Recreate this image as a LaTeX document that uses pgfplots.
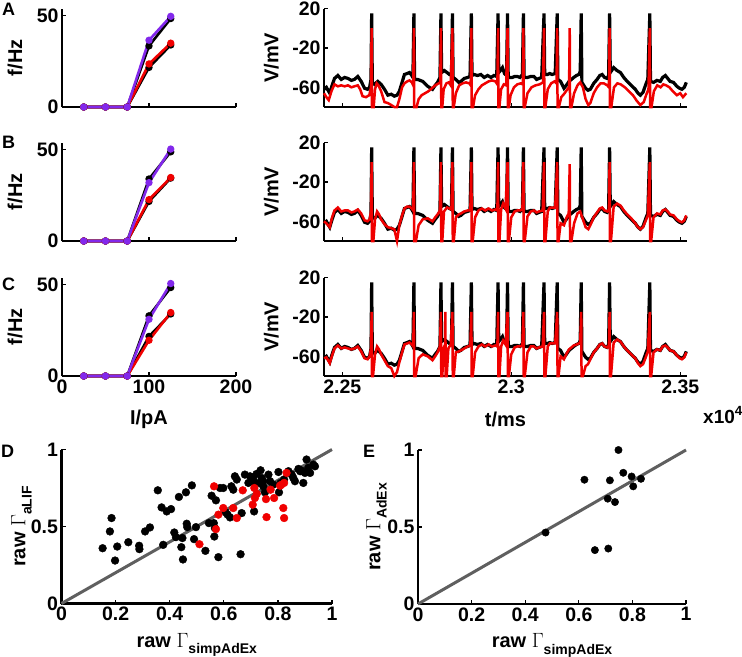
\documentclass[border=0pt]{standalone}
\usepackage{fontspec}
\setmainfont{Liberation Sans}
\usepackage{pgfplots}
\usepackage{pgfplotstable}
\pgfplotsset{compat=1.18}

\definecolor{purp}{RGB}{130,40,235}
\definecolor{diagc}{RGB}{95,95,95}
\definecolor{mred}{RGB}{240,0,0}

% recorded membrane potential (same in A, B, C)
\pgfplotstableread{
t V
22446 -62
22453 -60
22463 -66
22470 -58
22477 -51
22487 -48
22497 -52
22507 -50
22517 -51
22527 -53
22536 -52
22546 -49
22556 -54
22566 -61
22575 -62
22581 -60
22585 -52
22587 15
22589 -55
22595 -57
22605 -54
22615 -57
22625 -62
22635 -68
22645 -67
22654 -69
22662 -68
22669 -64
22677 -55
22684 -47
22692 -46
22699 -45
22706 -48
22709 -50
22712 15
22714 -52
22723 -52
22738 -54
22753 -59
22767 -62
22775 -58
22782 -55
22789 -50
22792 15
22794 -45
22802 -43
22810 -45
22817 -47
22823 -48
22826 15
22828 -50
22836 -52
22845 -55
22851 -54
22861 -51
22871 -50
22878 -49
22882 15
22884 -48
22890 -47
22900 -48
22910 -47
22920 -50
22930 -48
22940 -50
22949 -48
22957 -49
22961 15
22963 -45
22968 -43
22974 -40
22980 -46
22986 -48
22989 15
22991 -50
23003 -50
23010 -49
23018 -49
23026 -50
23033 -47
23036 15
23038 -50
23048 -50
23058 -49
23067 -49
23075 -52
23082 -51
23090 -50
23097 15
23099 -47
23107 -47
23114 -46
23121 -47
23130 -46
23136 15
23138 -52
23146 -54
23156 -61
23163 -58
23171 -54
23178 -52
23185 -50
23193 -48
23200 -47
23204 -44
23207 15
23209 -55
23220 -61
23227 -63
23234 -62
23244 -56
23254 -52
23262 -48
23269 -47
23276 -50
23284 -51
23288 -48
23291 15
23293 -45
23303 -40
23313 -43
23323 -45
23333 -50
23343 -54
23355 -58
23367 -62
23375 -66
23382 -68
23390 -65
23397 -58
23404 -52
23410 15
23412 -54
23421 -55
23431 -53
23441 -54
23448 -50
23456 -48
23463 -51
23470 -54
23480 -55
23490 -59
23498 -61
23505 -62
23512 -60
23518 -55
}\datatrace

% model A
\pgfplotstableread{
t V
22446 -66
22453 -70
22460 -73
22468 -64
22477 -57
22487 -59
22497 -58
22507 -59
22517 -58
22527 -60
22536 -59
22546 -58
22553 -62
22560 -69
22570 -70
22580 -68
22585 -60
22587 0
22588 -80
22593 -80
22597 -62
22602 -56
22607 -58
22615 -64
22625 -75
22635 -76
22645 -78
22654 -80
22662 -80
22669 -72
22677 -60
22684 -56
22692 -54
22699 -53
22706 -55
22710 -58
22712 0
22713 -80
22720 -80
22726 -72
22735 -68
22745 -66
22755 -64
22765 -61
22775 -58
22785 -56
22790 -55
22792 0
22793 -80
22796 -80
22800 -62
22808 -56
22815 -55
22821 -58
22826 0
22827 -80
22830 -80
22836 -66
22846 -58
22856 -56
22866 -55
22876 -56
22880 -58
22882 0
22883 -80
22887 -80
22893 -68
22903 -62
22913 -58
22923 -56
22933 -54
22943 -53
22953 -54
22959 -57
22961 0
22962 -80
22965 -80
22970 -62
22978 -57
22985 -58
22989 0
22990 -80
22993 -80
22998 -68
23008 -60
23018 -57
23028 -56
23034 -57
23036 0
23037 -80
23040 -80
23048 -66
23060 -60
23072 -58
23084 -57
23094 -55
23097 0
23098 -80
23101 -80
23108 -62
23118 -56
23128 -54
23134 -56
23136 0
23137 -80
23141 -80
23148 -70
23158 -66
23166 -62
23171 -60
23173 0
23174 -80
23178 -80
23186 -66
23196 -58
23204 -55
23212 -60
23220 -72
23228 -78
23234 -76
23244 -66
23254 -60
23264 -56
23274 -56
23284 -58
23289 -60
23291 0
23292 -80
23296 -80
23304 -60
23314 -56
23324 -57
23336 -60
23348 -64
23360 -68
23372 -74
23382 -78
23392 -75
23400 -67
23406 -62
23410 0
23411 -80
23415 -80
23422 -64
23432 -58
23442 -60
23450 -57
23458 -58
23468 -60
23478 -64
23490 -68
23500 -66
23508 -70
23518 -66
}\modelA

% model B
\pgfplotstableread{
t V
22446 -60
22453 -62
22463 -66
22470 -56
22477 -49
22487 -46
22497 -50
22507 -49
22517 -49
22527 -51
22536 -50
22546 -48
22556 -52
22566 -59
22575 -60
22581 -58
22585 -50
22587 0
22588 -80
22592 -80
22597 -58
22603 -50
22609 -53
22615 -58
22625 -63
22635 -66
22645 -67
22654 -68
22662 -80
22669 -64
22677 -54
22684 -47
22692 -45
22699 -45
22706 -47
22710 -49
22712 0
22713 -80
22718 -80
22726 -64
22738 -58
22753 -57
22767 -60
22775 -56
22782 -53
22789 -49
22792 0
22793 -80
22796 -80
22801 -50
22810 -46
22817 -47
22823 -48
22826 0
22827 -80
22830 -80
22836 -56
22845 -53
22851 -52
22861 -50
22871 -49
22879 -49
22882 0
22883 -80
22886 -80
22893 -56
22903 -49
22913 -47
22923 -49
22933 -47
22943 -49
22953 -48
22959 -49
22961 0
22962 -80
22965 -80
22970 -48
22976 -42
22983 -47
22989 0
22990 -80
22993 -80
23000 -56
23010 -50
23018 -49
23026 -49
23033 -48
23036 0
23037 -80
23040 -80
23048 -55
23058 -50
23067 -49
23075 -51
23082 -50
23093 -49
23097 0
23098 -80
23101 -80
23108 -50
23114 -46
23121 -46
23130 -46
23136 0
23137 -80
23140 -80
23146 -62
23156 -64
23164 -56
23170 -52
23173 -2
23174 -80
23178 -80
23186 -62
23196 -52
23204 -50
23212 -58
23220 -66
23228 -68
23234 -64
23244 -56
23254 -51
23262 -47
23269 -46
23276 -49
23284 -50
23289 -48
23291 0
23292 -80
23295 -80
23303 -45
23313 -42
23323 -44
23333 -49
23343 -53
23355 -57
23367 -62
23375 -66
23382 -68
23390 -66
23397 -60
23404 -54
23410 0
23411 -80
23414 -80
23421 -56
23431 -52
23441 -53
23448 -49
23456 -48
23463 -50
23470 -53
23480 -54
23490 -58
23498 -60
23505 -61
23512 -59
23518 -54
}\modelB

% model C
\pgfplotstableread{
t V
22446 -62
22453 -61
22463 -67
22470 -59
22477 -52
22487 -49
22497 -52
22507 -51
22517 -52
22527 -53
22536 -52
22546 -50
22556 -55
22566 -62
22575 -63
22581 -60
22585 -52
22587 -15
22588 -80
22591 -80
22597 -58
22603 -50
22609 -53
22615 -58
22625 -64
22635 -70
22645 -72
22654 -80
22662 -76
22669 -66
22677 -56
22684 -48
22692 -47
22699 -46
22706 -48
22710 -50
22712 -15
22713 -80
22717 -80
22726 -62
22738 -58
22753 -60
22767 -64
22775 -60
22782 -56
22789 -50
22792 -15
22793 -80
22796 -80
22800 -52
22804 -48
22805 -15
22806 -80
22809 -80
22814 -52
22821 -48
22826 -15
22827 -80
22830 -80
22836 -56
22845 -55
22851 -54
22861 -52
22871 -50
22879 -49
22882 -15
22883 -80
22886 -80
22893 -56
22903 -50
22913 -48
22923 -50
22933 -48
22943 -50
22953 -49
22959 -50
22961 -15
22962 -80
22965 -80
22970 -50
22976 -44
22983 -48
22989 -15
22990 -80
22993 -80
23000 -58
23010 -51
23018 -50
23026 -50
23033 -49
23036 -15
23037 -80
23040 -80
23048 -56
23058 -50
23067 -50
23075 -52
23082 -51
23093 -50
23097 -15
23098 -80
23101 -80
23108 -50
23114 -47
23121 -47
23130 -47
23136 -15
23137 -80
23140 -80
23146 -60
23156 -63
23164 -57
23171 -53
23178 -51
23185 -49
23193 -48
23200 -47
23204 -46
23207 -15
23208 -80
23212 -80
23220 -70
23227 -68
23234 -63
23244 -56
23254 -52
23262 -48
23269 -47
23276 -50
23284 -51
23289 -49
23291 -15
23292 -80
23295 -80
23303 -46
23313 -43
23323 -45
23333 -50
23343 -54
23355 -58
23367 -62
23375 -67
23382 -70
23390 -68
23397 -62
23404 -55
23410 -15
23411 -80
23414 -80
23421 -56
23431 -53
23441 -54
23448 -50
23456 -49
23463 -51
23470 -54
23480 -55
23490 -59
23498 -62
23505 -63
23512 -61
23518 -56
}\modelC

% D: raw Gamma, aLIF vs simpAdEx
\pgfplotstableread{
x y
0.152 0.359
0.179 0.468
0.185 0.555
0.198 0.279
0.206 0.370
0.247 0.398
0.287 0.375
0.288 0.353
0.309 0.468
0.327 0.494
0.356 0.735
0.370 0.624
0.389 0.598
0.405 0.613
0.376 0.381
0.417 0.461
0.423 0.431
0.434 0.692
0.443 0.366
0.449 0.286
0.447 0.425
0.460 0.722
0.463 0.518
0.465 0.496
0.482 0.767
0.490 0.418
0.497 0.496
0.532 0.342
0.545 0.522
0.555 0.700
0.563 0.522
0.571 0.670
0.565 0.435
0.567 0.490
0.580 0.301
0.586 0.750
0.598 0.750
0.607 0.592
0.614 0.577
0.623 0.559
0.628 0.761
0.635 0.739
0.641 0.826
0.648 0.805
0.666 0.587
0.662 0.320
0.678 0.837
0.691 0.783
0.697 0.826
0.709 0.805
0.715 0.783
0.721 0.841
0.731 0.783
0.736 0.865
0.740 0.815
0.746 0.794
0.746 0.761
0.752 0.722
0.712 0.598
0.765 0.837
0.771 0.794
0.783 0.772
0.802 0.854
0.804 0.722
0.810 0.783
0.823 0.805
0.839 0.859
0.851 0.837
0.857 0.815
0.863 0.794
0.876 0.874
0.882 0.859
0.888 0.863
0.900 0.848
0.894 0.783
0.906 0.935
0.912 0.881
0.919 0.848
0.931 0.902
0.937 0.891
}\scatD

\pgfplotstableread{
x y
0.510 0.385
0.571 0.483
0.580 0.577
0.564 0.761
0.598 0.620
0.635 0.620
0.648 0.555
0.670 0.735
0.707 0.642
0.713 0.750
0.715 0.685
0.722 0.712
0.756 0.678
0.758 0.561
0.773 0.739
0.786 0.685
0.808 0.765
0.820 0.620
0.823 0.555
0.823 0.783
0.832 0.848
0.812 0.770
}\scatDred

% E: raw Gamma, AdEx vs simpAdEx
\pgfplotstableread{
x y
0.476 0.464
0.621 0.807
0.660 0.350
0.708 0.684
0.710 0.360
0.716 0.803
0.735 0.662
0.748 1.000
0.766 0.852
0.797 0.828
0.803 0.764
0.832 0.813
}\scatE

\pgfplotsset{
  panel/.style={
    scale only axis, axis lines=left, axis line style={-, line width=2.8bp, black},
    tick align=inside, major tick length=4bp, tick style={line width=1.2bp, black},
    tick label style={font=\fontsize{19.5bp}{22bp}\selectfont\bfseries},
    label style={font=\fontsize{20bp}{24bp}\selectfont\bfseries},
    scaled x ticks=false, scaled y ticks=false,
    clip=false, anchor=south west,
  },
  fi/.style={panel, width=174bp, height=98.5bp,
    xmin=0, xmax=200, ymin=0, ymax=54,
    xtick={0,100,200}, ytick={0,50}, yticklabels={0,50},
    ylabel={f/Hz},
    ylabel style={at={(axis description cs:-0.27,0.5)}, anchor=center},
    xlabel style={at={(axis description cs:0.5,-0.437)}, anchor=center},
  },
  vt/.style={panel, width=363bp, height=98.5bp,
    xmin=22446, xmax=23520, ymin=-80, ymax=20,
    xtick={22500,23000,23500}, ytick={-60,-20,20}, yticklabels={-60,-20,20},
    ylabel={V/mV},
    ylabel style={at={(axis description cs:-0.145,0.5)}, anchor=center},
    xlabel style={at={(axis description cs:0.5,-0.437)}, anchor=center},
  },
  gam/.style={panel, height=154bp,
    xmin=0, xmax=1, ymin=0, ymax=1,
    xtick={0,0.2,0.4,0.6,0.8,1}, xticklabels={0,0.2,0.4,0.6,0.8,1},
    ytick={0,0.5,1}, yticklabels={0,0.5,1},
    xlabel style={at={(axis description cs:0.5,-0.27)}, anchor=center},
  },
  fiblk/.style={black, line width=2.6bp, mark=*, mark size=2.3bp},
  fired/.style={mred, line width=2.6bp, mark=*, mark size=2.3bp},
  fipur/.style={purp, line width=2.6bp, mark=*, mark size=2.3bp},
  trblk/.style={black, line width=3.2bp},
  trred/.style={mred, line width=2.5bp},
}

\newcommand{\sub}[1]{\raisebox{-0.32em}{\fontsize{14bp}{14bp}\selectfont #1}}

\begin{document}
\begin{tikzpicture}
\useasboundingbox (0,0) rectangle (742bp,-657bp);

% ---- A ----
\begin{axis}[fi, at={(62bp,-107bp)}, xticklabels={}]
\addplot[fiblk] coordinates {(25,0) (50,0) (75,0) (100,33.5) (125,48.5)};
\addplot[fiblk] coordinates {(25,0) (50,0) (75,0) (100,21.7) (125,34)};
\addplot[fired] coordinates {(25,0) (50,0) (75,0) (100,23.6) (125,35)};
\addplot[fipur] coordinates {(25,0) (50,0) (75,0) (100,36.6) (125,49.7)};
\end{axis}
\begin{axis}[vt, at={(324bp,-107bp)}, xticklabels={}]
\addplot[trblk] table[x=t, y=V] {\datatrace};
\addplot[trred] table[x=t, y=V] {\modelA};
\end{axis}

% ---- B ----
\begin{axis}[fi, at={(62bp,-241bp)}, xticklabels={}]
\addplot[fiblk] coordinates {(25,0) (50,0) (75,0) (100,34) (125,48.9)};
\addplot[fiblk] coordinates {(25,0) (50,0) (75,0) (100,21.7) (125,34.5)};
\addplot[fired] coordinates {(25,0) (50,0) (75,0) (100,22.7) (125,34.8)};
\addplot[fipur] coordinates {(25,0) (50,0) (75,0) (100,32) (125,50.4)};
\end{axis}
\begin{axis}[vt, at={(324bp,-241bp)}, xticklabels={}]
\addplot[trblk] table[x=t, y=V] {\datatrace};
\addplot[trred] table[x=t, y=V] {\modelB};
\end{axis}

% ---- C ----
\begin{axis}[fi, at={(62bp,-376bp)}, xticklabels={0,100,200}, xlabel={I/pA}]
\addplot[fiblk] coordinates {(25,0) (50,0) (75,0) (100,33) (125,48.5)};
\addplot[fiblk] coordinates {(25,0) (50,0) (75,0) (100,21.7) (125,34)};
\addplot[fired] coordinates {(25,0) (50,0) (75,0) (100,19.6) (125,34.8)};
\addplot[fipur] coordinates {(25,0) (50,0) (75,0) (100,31.1) (125,50.7)};
\end{axis}
\begin{axis}[vt, at={(324bp,-376bp)}, xticklabels={2.25,2.3,2.35}, xlabel={t/ms}]
\addplot[trblk] table[x=t, y=V] {\datatrace};
\addplot[trred] table[x=t, y=V] {\modelC};
\end{axis}

% ---- D ----
\begin{axis}[gam, at={(61.5bp,-603.5bp)}, width=270.5bp,
  xlabel={raw $\Gamma$\sub{simpAdEx}}, ylabel={raw $\Gamma$\sub{aLIF}},
  ylabel style={at={(axis description cs:-0.148,0.5)}, anchor=center}]
\addplot[diagc, line width=3bp] coordinates {(0,0) (1,1)};
\addplot[only marks, mark=*, mark size=3.9bp, black] table[x=x, y=y] {\scatD};
\addplot[only marks, mark=*, mark size=3.9bp, mred, draw=mred] table[x=x, y=y] {\scatDred};
\end{axis}

% ---- E ----
\begin{axis}[gam, at={(418bp,-604bp)}, width=268bp,
  xlabel={raw $\Gamma$\sub{simpAdEx}}, ylabel={raw $\Gamma$\sub{AdEx}},
  ylabel style={at={(axis description cs:-0.155,0.5)}, anchor=center}]
\addplot[diagc, line width=3bp] coordinates {(0,0) (1,1)};
\addplot[only marks, mark=*, mark size=3.7bp, black] table[x=x, y=y] {\scatE};
\end{axis}

% panel letters and exponent
\begin{scope}[every node/.style={font=\fontsize{18bp}{18bp}\selectfont\bfseries, inner sep=0pt}]
\node at (8.5bp,-9bp) {A};
\node at (8.5bp,-142.5bp) {B};
\node at (8.5bp,-284bp) {C};
\node at (7.5bp,-451bp) {D};
\node at (369bp,-451bp) {E};
\end{scope}
\node[anchor=west, inner sep=0pt, font=\fontsize{19bp}{22bp}\selectfont\bfseries] at (703bp,-415bp) {x10\textsuperscript{4}};
\end{tikzpicture}
\end{document}
